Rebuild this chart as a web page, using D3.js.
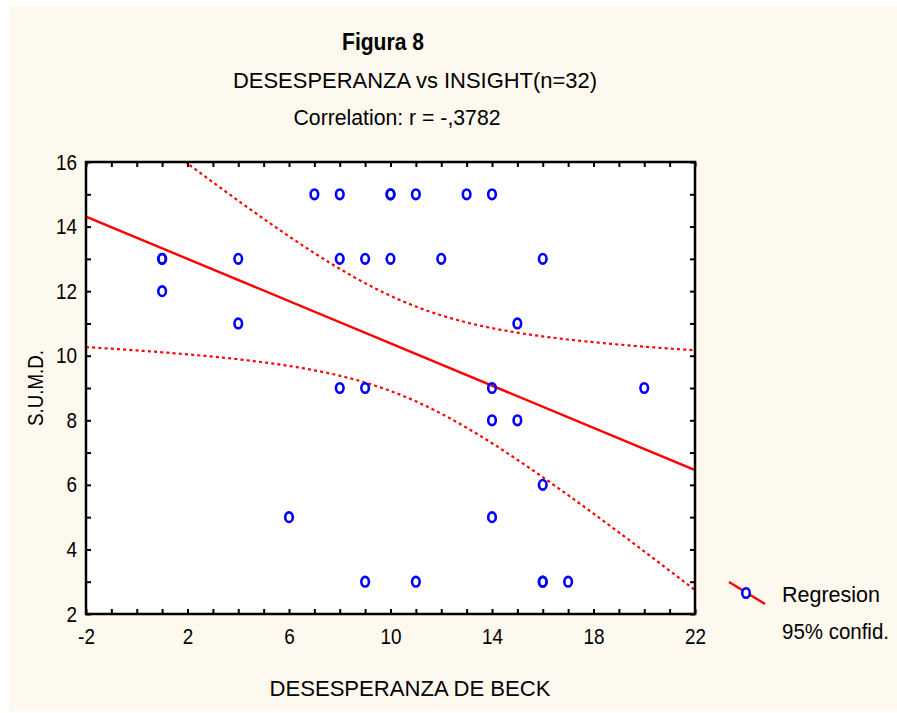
<!DOCTYPE html>
<html>
<head>
<meta charset="utf-8">
<script src="https://cdn.jsdelivr.net/npm/d3@7"></script>
<style>
  body { margin: 0; background: #fff; }
  text { font-family: "Liberation Sans", Arial, sans-serif; fill: #000; }
</style>
</head>
<body>
<div id="chart"></div>
<script>
// DESESPERANZA DE BECK (x) vs S.U.M.D. (y), n=32 (some points overlap)
var desesperanza = [7, 8, 10, 11, 13, 14, 1, 4, 8, 9, 10, 12, 16, 1, 4, 15,
                    8, 9, 14, 20, 14, 15, 16, 6, 14, 9, 11, 16, 17, 1, 16, 10];
var sumd         = [15, 15, 15, 15, 15, 15, 13, 13, 13, 13, 13, 13, 13, 12, 11, 11,
                    9, 9, 9, 9, 8, 8, 6, 5, 5, 3, 3, 3, 3, 13, 3, 15];
var xTicks = [-2, 2, 6, 10, 14, 18, 22];
var yTicks = [2, 4, 6, 8, 10, 12, 14, 16];
var legendLabels = ["Regresion", "95% confid."];

var W = 897, H = 713;
var pLeft = 86, pRight = 695, pTop = 162, pBottom = 614;

var svg = d3.select("#chart").append("svg")
  .attr("width", W).attr("height", H);

svg.append("rect").attr("x", 9).attr("y", 7).attr("width", W - 9).attr("height", 704)
  .attr("fill", "#fef9ee");

var x = d3.scaleLinear().domain([-2, 22]).range([pLeft, pRight]);
var y = d3.scaleLinear().domain([2, 16]).range([pBottom, pTop]);

svg.append("rect").attr("x", pLeft).attr("y", pTop)
  .attr("width", pRight - pLeft).attr("height", pBottom - pTop).attr("fill", "#fff");

svg.append("defs").append("clipPath").attr("id", "plotclip")
  .append("rect").attr("x", pLeft).attr("y", pTop)
  .attr("width", pRight - pLeft).attr("height", pBottom - pTop);

// regression + 95% confidence band
var n = desesperanza.length;
var mx = d3.mean(desesperanza), my = d3.mean(sumd);
var sxx = 0, sxy = 0, syy = 0;
for (var i = 0; i < n; i++) {
  sxx += (desesperanza[i] - mx) * (desesperanza[i] - mx);
  sxy += (desesperanza[i] - mx) * (sumd[i] - my);
  syy += (sumd[i] - my) * (sumd[i] - my);
}
var slope = sxy / sxx, icpt = my - slope * mx;
var s = Math.sqrt((syy - sxy * sxy / sxx) / (n - 2));
var tcrit = 2.042;
var xs = d3.range(-2, 22.001, 0.1);
var fit = function(v) { return icpt + slope * v; };
var half = function(v) { return tcrit * s * Math.sqrt(1 / n + (v - mx) * (v - mx) / sxx); };

var plot = svg.append("g").attr("clip-path", "url(#plotclip)");
var line = d3.line().x(function(d) { return x(d[0]); }).y(function(d) { return y(d[1]); });

plot.append("path").datum(xs.map(function(v) { return [v, fit(v) + half(v)]; }))
  .attr("d", line).attr("fill", "none").attr("stroke", "#f00")
  .attr("stroke-width", 2.2).attr("stroke-dasharray", "3,3.2");
plot.append("path").datum(xs.map(function(v) { return [v, fit(v) - half(v)]; }))
  .attr("d", line).attr("fill", "none").attr("stroke", "#f00")
  .attr("stroke-width", 2.2).attr("stroke-dasharray", "3,3.2");
plot.append("path").datum([[-2, fit(-2)], [22, fit(22)]])
  .attr("d", line).attr("fill", "none").attr("stroke", "#f00").attr("stroke-width", 2.4);

plot.selectAll("ellipse.pt").data(desesperanza).enter().append("ellipse")
  .attr("class", "pt")
  .attr("cx", function(d) { return x(d); })
  .attr("cy", function(d, i) { return y(sumd[i]); })
  .attr("rx", 3.8).attr("ry", 4.8)
  .attr("fill", "none").attr("stroke", "#00f").attr("stroke-width", 2.6);

// frame & inward ticks
var minorX = d3.range(-2, 23, 1), minorY = d3.range(2, 17, 1);
function tickAxis(ax, tr) {
  var g = svg.append("g").attr("transform", tr).call(ax);
  g.select(".domain").remove();
  g.selectAll("line").attr("stroke", "#000").attr("stroke-width", 2);
  return g;
}
tickAxis(d3.axisBottom(x).tickValues(minorX).tickSize(-5).tickFormat(""), "translate(0," + pBottom + ")");
tickAxis(d3.axisTop(x).tickValues(minorX).tickSize(-5).tickFormat(""), "translate(0," + pTop + ")");
tickAxis(d3.axisLeft(y).tickValues(minorY).tickSize(-5).tickFormat(""), "translate(" + pLeft + ",0)");
tickAxis(d3.axisRight(y).tickValues(minorY).tickSize(-5).tickFormat(""), "translate(" + pRight + ",0)");

svg.append("rect").attr("x", pLeft).attr("y", pTop)
  .attr("width", pRight - pLeft).attr("height", pBottom - pTop)
  .attr("fill", "none").attr("stroke", "#000").attr("stroke-width", 2.5);

var plain = function(d) { return String(d); };
var xl = svg.append("g").attr("transform", "translate(0," + pBottom + ")")
  .call(d3.axisBottom(x).tickValues(xTicks).tickSize(0).tickPadding(14).tickFormat(plain));
xl.select(".domain").remove();
xl.selectAll("text").attr("font-size", 22).attr("font-family", null)
  .attr("transform", "scale(0.86,1)");

var yl = svg.append("g").attr("transform", "translate(" + pLeft + ",0)")
  .call(d3.axisLeft(y).tickValues(yTicks).tickSize(0).tickPadding(9).tickFormat(plain));
yl.select(".domain").remove();
yl.selectAll("text").attr("font-size", 22).attr("font-family", null)
  .attr("transform", "scale(0.86,1)").attr("x", -9 / 0.86);

// titles (squeezed to the narrow face of the original)
function label(txt, cx, by, len, size, bold) {
  return svg.append("text").attr("x", cx).attr("y", by).attr("text-anchor", "middle")
    .attr("font-size", size).attr("font-weight", bold ? "bold" : null)
    .attr("textLength", len).attr("lengthAdjust", "spacingAndGlyphs").text(txt);
}
label("Figura 8", 383, 50, 82, 23, true);
label("DESESPERANZA vs INSIGHT(n=32)", 415, 88, 364, 22);
label("Correlation: r = -,3782", 397, 125, 207, 22);
label("DESESPERANZA DE BECK", 410, 696, 281, 22);
svg.append("text").attr("transform", "translate(43," + ((pTop + pBottom) / 2) + ") rotate(-90)")
  .attr("text-anchor", "middle").attr("font-size", 22)
  .attr("textLength", 76).attr("lengthAdjust", "spacingAndGlyphs").text("S.U.M.D.");

// legend
svg.append("line").attr("x1", 729).attr("y1", 582).attr("x2", 765).attr("y2", 604)
  .attr("stroke", "#f00").attr("stroke-width", 2.4);
svg.append("ellipse").attr("cx", 746).attr("cy", 593).attr("rx", 3.8).attr("ry", 4.8)
  .attr("fill", "#fff").attr("stroke", "#00f").attr("stroke-width", 2.6);
svg.selectAll("text.leg").data(legendLabels).enter().append("text")
  .attr("class", "leg").attr("x", 782).attr("y", function(d, i) { return 602 + i * 37; })
  .attr("font-size", 21.5)
  .attr("textLength", function(d, i) { return [98, 107][i]; })
  .attr("lengthAdjust", "spacingAndGlyphs").text(function(d) { return d; });
</script>
</body>
</html>
